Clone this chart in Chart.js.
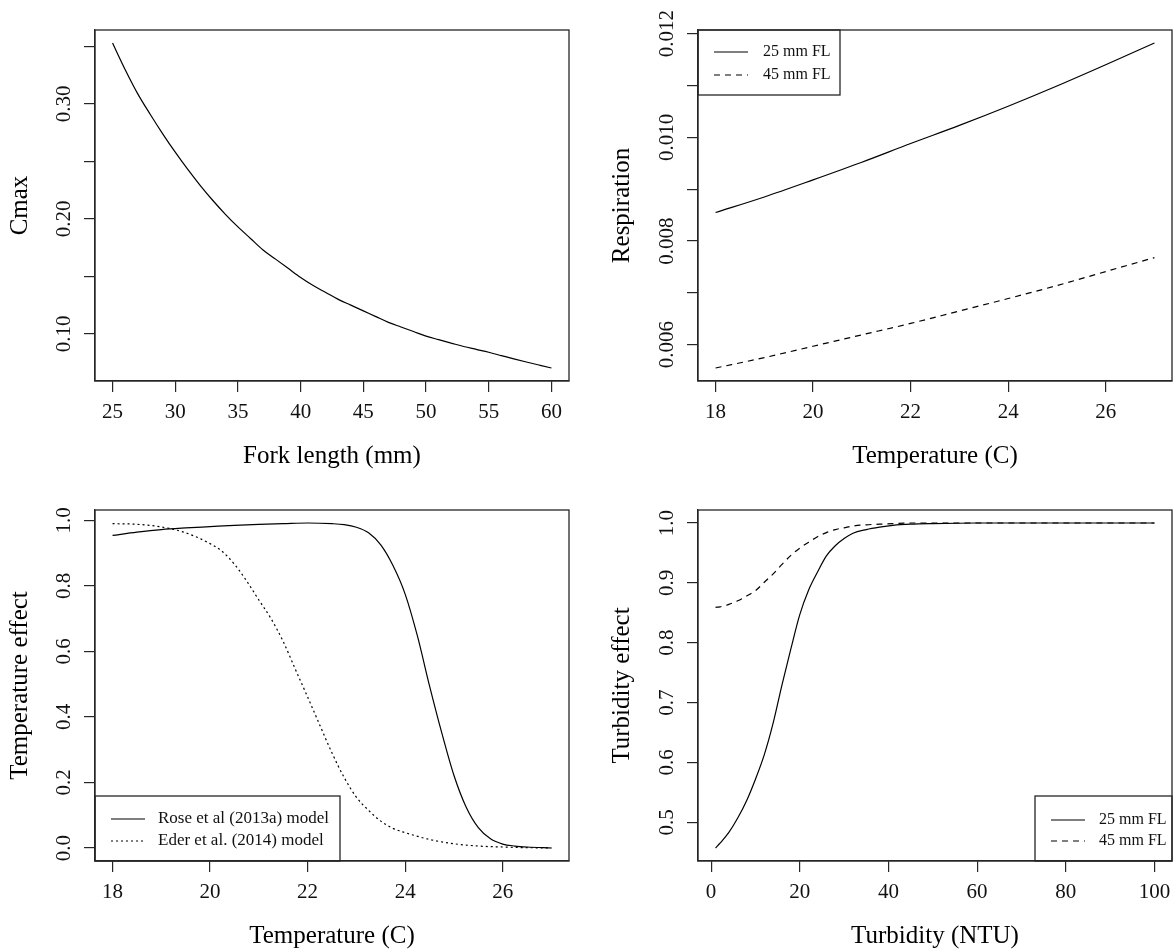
<!DOCTYPE html>
<html><head><meta charset="utf-8">
<script src="https://cdn.jsdelivr.net/npm/chart.js@4.4.0/dist/chart.umd.min.js"></script>
<style>
html,body{margin:0;padding:0;background:#fff;}
#wrap{position:relative;width:1175px;height:951px;overflow:hidden;background:#fff}
canvas{position:absolute;left:0;top:0}
</style></head><body><div id="wrap">
<canvas id="c1" width="1175" height="951"></canvas>
<canvas id="c2" width="1175" height="951"></canvas>
<canvas id="c3" width="1175" height="951"></canvas>
<canvas id="c4" width="1175" height="951"></canvas>
</div>
<script>
// ---------- data ----------
const forkLength = [25,26,27,28,29,30,31,32,33,34,35,36,37,38,39,40,41,42,43,44,45,46,47,48,49,50,51,52,53,54,55,56,57,58,59,60];
const cmaxValues = [0.353,0.330,0.309,0.291,0.274,0.258,0.243,0.229,0.216,0.204,0.193,0.183,0.173,0.165,0.157,0.149,0.142,0.136,0.130,0.125,0.120,0.115,0.110,0.106,0.102,0.098,0.095,0.092,0.089,0.0865,0.084,0.0811,0.0782,0.0755,0.0729,0.0703];

const respTemp = [18,19,20,21,22,23,24,25,26,27];
const resp25mm = [0.00855,0.00885,0.00918,0.00952,0.00988,0.01023,0.01060,0.01099,0.01140,0.01182];
const resp45mm = [0.00555,0.00575,0.00597,0.00619,0.00641,0.00665,0.00689,0.00714,0.00741,0.00768];

const roseTemp   = [18,18.5,19,19.5,20,20.5,21,21.5,22,22.5,22.75,23,23.25,23.5,23.75,24,24.25,24.5,24.75,25,25.25,25.5,25.75,26,26.25,26.5,27];
const roseEffect = [0.954,0.964,0.972,0.977,0.981,0.985,0.988,0.990,0.992,0.990,0.987,0.979,0.962,0.925,0.862,0.775,0.648,0.495,0.352,0.222,0.125,0.062,0.028,0.012,0.006,0.003,0.0];
const ederTemp   = [18,18.5,19,19.5,20,20.25,20.5,20.75,21,21.25,21.5,21.75,22,22.25,22.5,22.75,23,23.25,23.5,23.75,24,24.5,25,25.5,26,26.5,27];
const ederEffect = [0.990,0.988,0.980,0.962,0.929,0.905,0.866,0.815,0.757,0.700,0.630,0.545,0.461,0.375,0.290,0.215,0.155,0.115,0.082,0.060,0.047,0.026,0.013,0.006,0.003,0.001,0.0];

const turbidity  = [1,2,4,6,8,10,12,14,16,18,20,22,24,26,28,30,32,35,38,41,45,50,60,70,80,90,100];
const turb25mm   = [0.457,0.465,0.483,0.507,0.536,0.572,0.613,0.666,0.730,0.790,0.847,0.888,0.918,0.945,0.962,0.974,0.983,0.989,0.993,0.996,0.998,0.999,1.0,1.0,1.0,1.0,1.0];
const turb45mm   = [0.859,0.860,0.864,0.870,0.878,0.887,0.901,0.915,0.931,0.946,0.958,0.968,0.977,0.984,0.989,0.992,0.995,0.997,0.998,0.999,1.0,1.0,1.0,1.0,1.0,1.0,1.0];

// tick values and labels
const ticksFork = [25,30,35,40,45,50,55,60];
const ticksCmax = [0.10,0.15,0.20,0.25,0.30,0.35];
const labelsCmax = [0.10,0.20,0.30];
const ticksTemp = [18,20,22,24,26];
const ticksResp = [0.006,0.007,0.008,0.009,0.010,0.011,0.012];
const labelsResp = [0.006,0.008,0.010,0.012];
const ticksTempEff = [0,0.2,0.4,0.6,0.8,1.0];
const ticksTurb = [0,20,40,60,80,100];
const ticksTurbEff = [0.5,0.6,0.7,0.8,0.9,1.0];

// ---------- helpers ----------
const FONT = '"Liberation Serif","Times New Roman",Times,serif';
const INK = '#262626';
const W = 1175, H = 951;

function rRange(arrays){
  let lo = Infinity, hi = -Infinity;
  arrays.forEach(a => a.forEach(v => { lo = Math.min(lo, v); hi = Math.max(hi, v); }));
  const d = (hi - lo) * 0.04;
  return [lo - d, hi + d];
}
function pts(xs, ys){ return xs.map((x,i)=>({x:x, y:ys[i]})); }
function axis(range, ticks){
  return {
    type:'linear', min:range[0], max:range[1],
    afterBuildTicks: s => { s.ticks = ticks.map(v => ({value:v})); },
    afterFit: s => { if (s.isHorizontal()) s.height = 0; else s.width = 0; },
    ticks:{display:false},
    grid:{drawOnChartArea:false, drawTicks:true, tickLength:11, color:INK, lineWidth:1.2},
    border:{display:true, color:INK, width:1.2}
  };
}
function ds(data, dash){
  return {data:data, borderColor:'#000', borderWidth:1.2, borderDash:dash||[], pointRadius:0,
          fill:false, cubicInterpolationMode:'monotone'};
}

const decor = {
  id:'decor',
  afterDraw(chart, args, o){
    const ctx = chart.ctx, a = chart.chartArea, xs = chart.scales.x, ys = chart.scales.y;
    ctx.save();
    // plot box
    ctx.strokeStyle = INK; ctx.lineWidth = 1.3;
    ctx.strokeRect(a.left, a.top, a.right - a.left, a.bottom - a.top);
    // tick labels
    ctx.fillStyle = '#111';
    ctx.font = '21px ' + FONT;
    ctx.textAlign = 'center'; ctx.textBaseline = 'middle';
    o.xLabels.forEach(v => ctx.fillText(o.xFmt(v), xs.getPixelForValue(v), a.bottom + 31));
    o.yLabels.forEach(v => {
      ctx.save();
      ctx.translate(a.left - 31, ys.getPixelForValue(v));
      ctx.rotate(-Math.PI/2);
      ctx.fillText(o.yFmt(v), 0, 0);
      ctx.restore();
    });
    // axis titles
    ctx.fillStyle = '#000';
    ctx.font = '25px ' + FONT;
    ctx.fillText(o.xTitle, (a.left + a.right)/2, a.bottom + 75);
    ctx.save();
    ctx.translate(o.yTitleX, (a.top + a.bottom)/2);
    ctx.rotate(-Math.PI/2);
    ctx.fillText(o.yTitle, 0, 0);
    ctx.restore();
    // legend
    const L = o.legend;
    if (L){
      ctx.strokeStyle = INK; ctx.lineWidth = 1.3;
      ctx.strokeRect(L.box[0], L.box[1], L.box[2]-L.box[0], L.box[3]-L.box[1]);
      ctx.font = L.size + 'px ' + FONT;
      ctx.textAlign = 'left'; ctx.textBaseline = 'middle';
      L.items.forEach((it, i) => {
        const y = L.rows[i];
        ctx.strokeStyle = '#000'; ctx.lineWidth = 1.2;
        ctx.setLineDash(it.dash);
        ctx.beginPath(); ctx.moveTo(L.lineX[0], y); ctx.lineTo(L.lineX[1], y); ctx.stroke();
        ctx.setLineDash([]);
        ctx.fillStyle = '#111';
        ctx.fillText(it.label, L.textX, y);
      });
    }
    ctx.restore();
  }
};

function make(id, box, datasets, xRange, yRange, xTicks, yTicks, deco){
  return new Chart(document.getElementById(id), {
    type:'line',
    data:{datasets:datasets},
    options:{
      responsive:false, animation:false, devicePixelRatio:1,
      layout:{padding:{left:box[0], top:box[1], right:W - box[2], bottom:H - box[3]}},
      scales:{x:axis(xRange, xTicks), y:axis(yRange, yTicks)},
      plugins:{legend:{display:false}, tooltip:{enabled:false}, decor:deco}
    },
    plugins:[decor]
  });
}

const f2 = v => v.toFixed(2), f3 = v => v.toFixed(3), f1 = v => v.toFixed(1), f0 = v => String(v);
const DASH = [6,5], DOT = [2,3];

// Panel 1: Cmax
make('c1', [95,30,569,381],
  [ds(pts(forkLength, cmaxValues))],
  rRange([forkLength]), rRange([cmaxValues]), ticksFork, ticksCmax,
  {xLabels:ticksFork, xFmt:f0, yLabels:labelsCmax, yFmt:f2, xTitle:'Fork length (mm)', yTitle:'Cmax', yTitleX:20});

// Panel 2: Respiration
make('c2', [698,30,1172,381],
  [ds(pts(respTemp, resp25mm)), ds(pts(respTemp, resp45mm), DASH)],
  rRange([respTemp]), rRange([resp25mm, resp45mm]), ticksTemp, ticksResp,
  {xLabels:ticksTemp, xFmt:f0, yLabels:labelsResp, yFmt:f3, xTitle:'Temperature (C)', yTitle:'Respiration', yTitleX:622,
   legend:{box:[698,30,840,95], lineX:[714,748], textX:763, rows:[52,75], size:16,
     items:[{label:'25 mm FL', dash:[]},{label:'45 mm FL', dash:DASH}]}});

// Panel 3: Temperature effect
make('c3', [95,510,569,861],
  [ds(pts(roseTemp, roseEffect)), ds(pts(ederTemp, ederEffect), DOT)],
  rRange([roseTemp, ederTemp]), rRange([roseEffect, ederEffect]), ticksTemp, ticksTempEff,
  {xLabels:ticksTemp, xFmt:f0, yLabels:ticksTempEff, yFmt:f1, xTitle:'Temperature (C)', yTitle:'Temperature effect', yTitleX:20,
   legend:{box:[95,796,340,861], lineX:[111,145], textX:158, rows:[819,841], size:17,
     items:[{label:'Rose et al (2013a) model', dash:[]},{label:'Eder et al. (2014) model', dash:DOT}]}});

// Panel 4: Turbidity effect
make('c4', [698,510,1172,861],
  [ds(pts(turbidity, turb25mm)), ds(pts(turbidity, turb45mm), DASH)],
  rRange([turbidity]), rRange([turb25mm, turb45mm]), ticksTurb, ticksTurbEff,
  {xLabels:ticksTurb, xFmt:f0, yLabels:ticksTurbEff, yFmt:f1, xTitle:'Turbidity (NTU)', yTitle:'Turbidity effect', yTitleX:622,
   legend:{box:[1035,796,1172,861], lineX:[1051,1085], textX:1099, rows:[820,841], size:16,
     items:[{label:'25 mm FL', dash:[]},{label:'45 mm FL', dash:DASH}]}});
</script>
</body></html>
